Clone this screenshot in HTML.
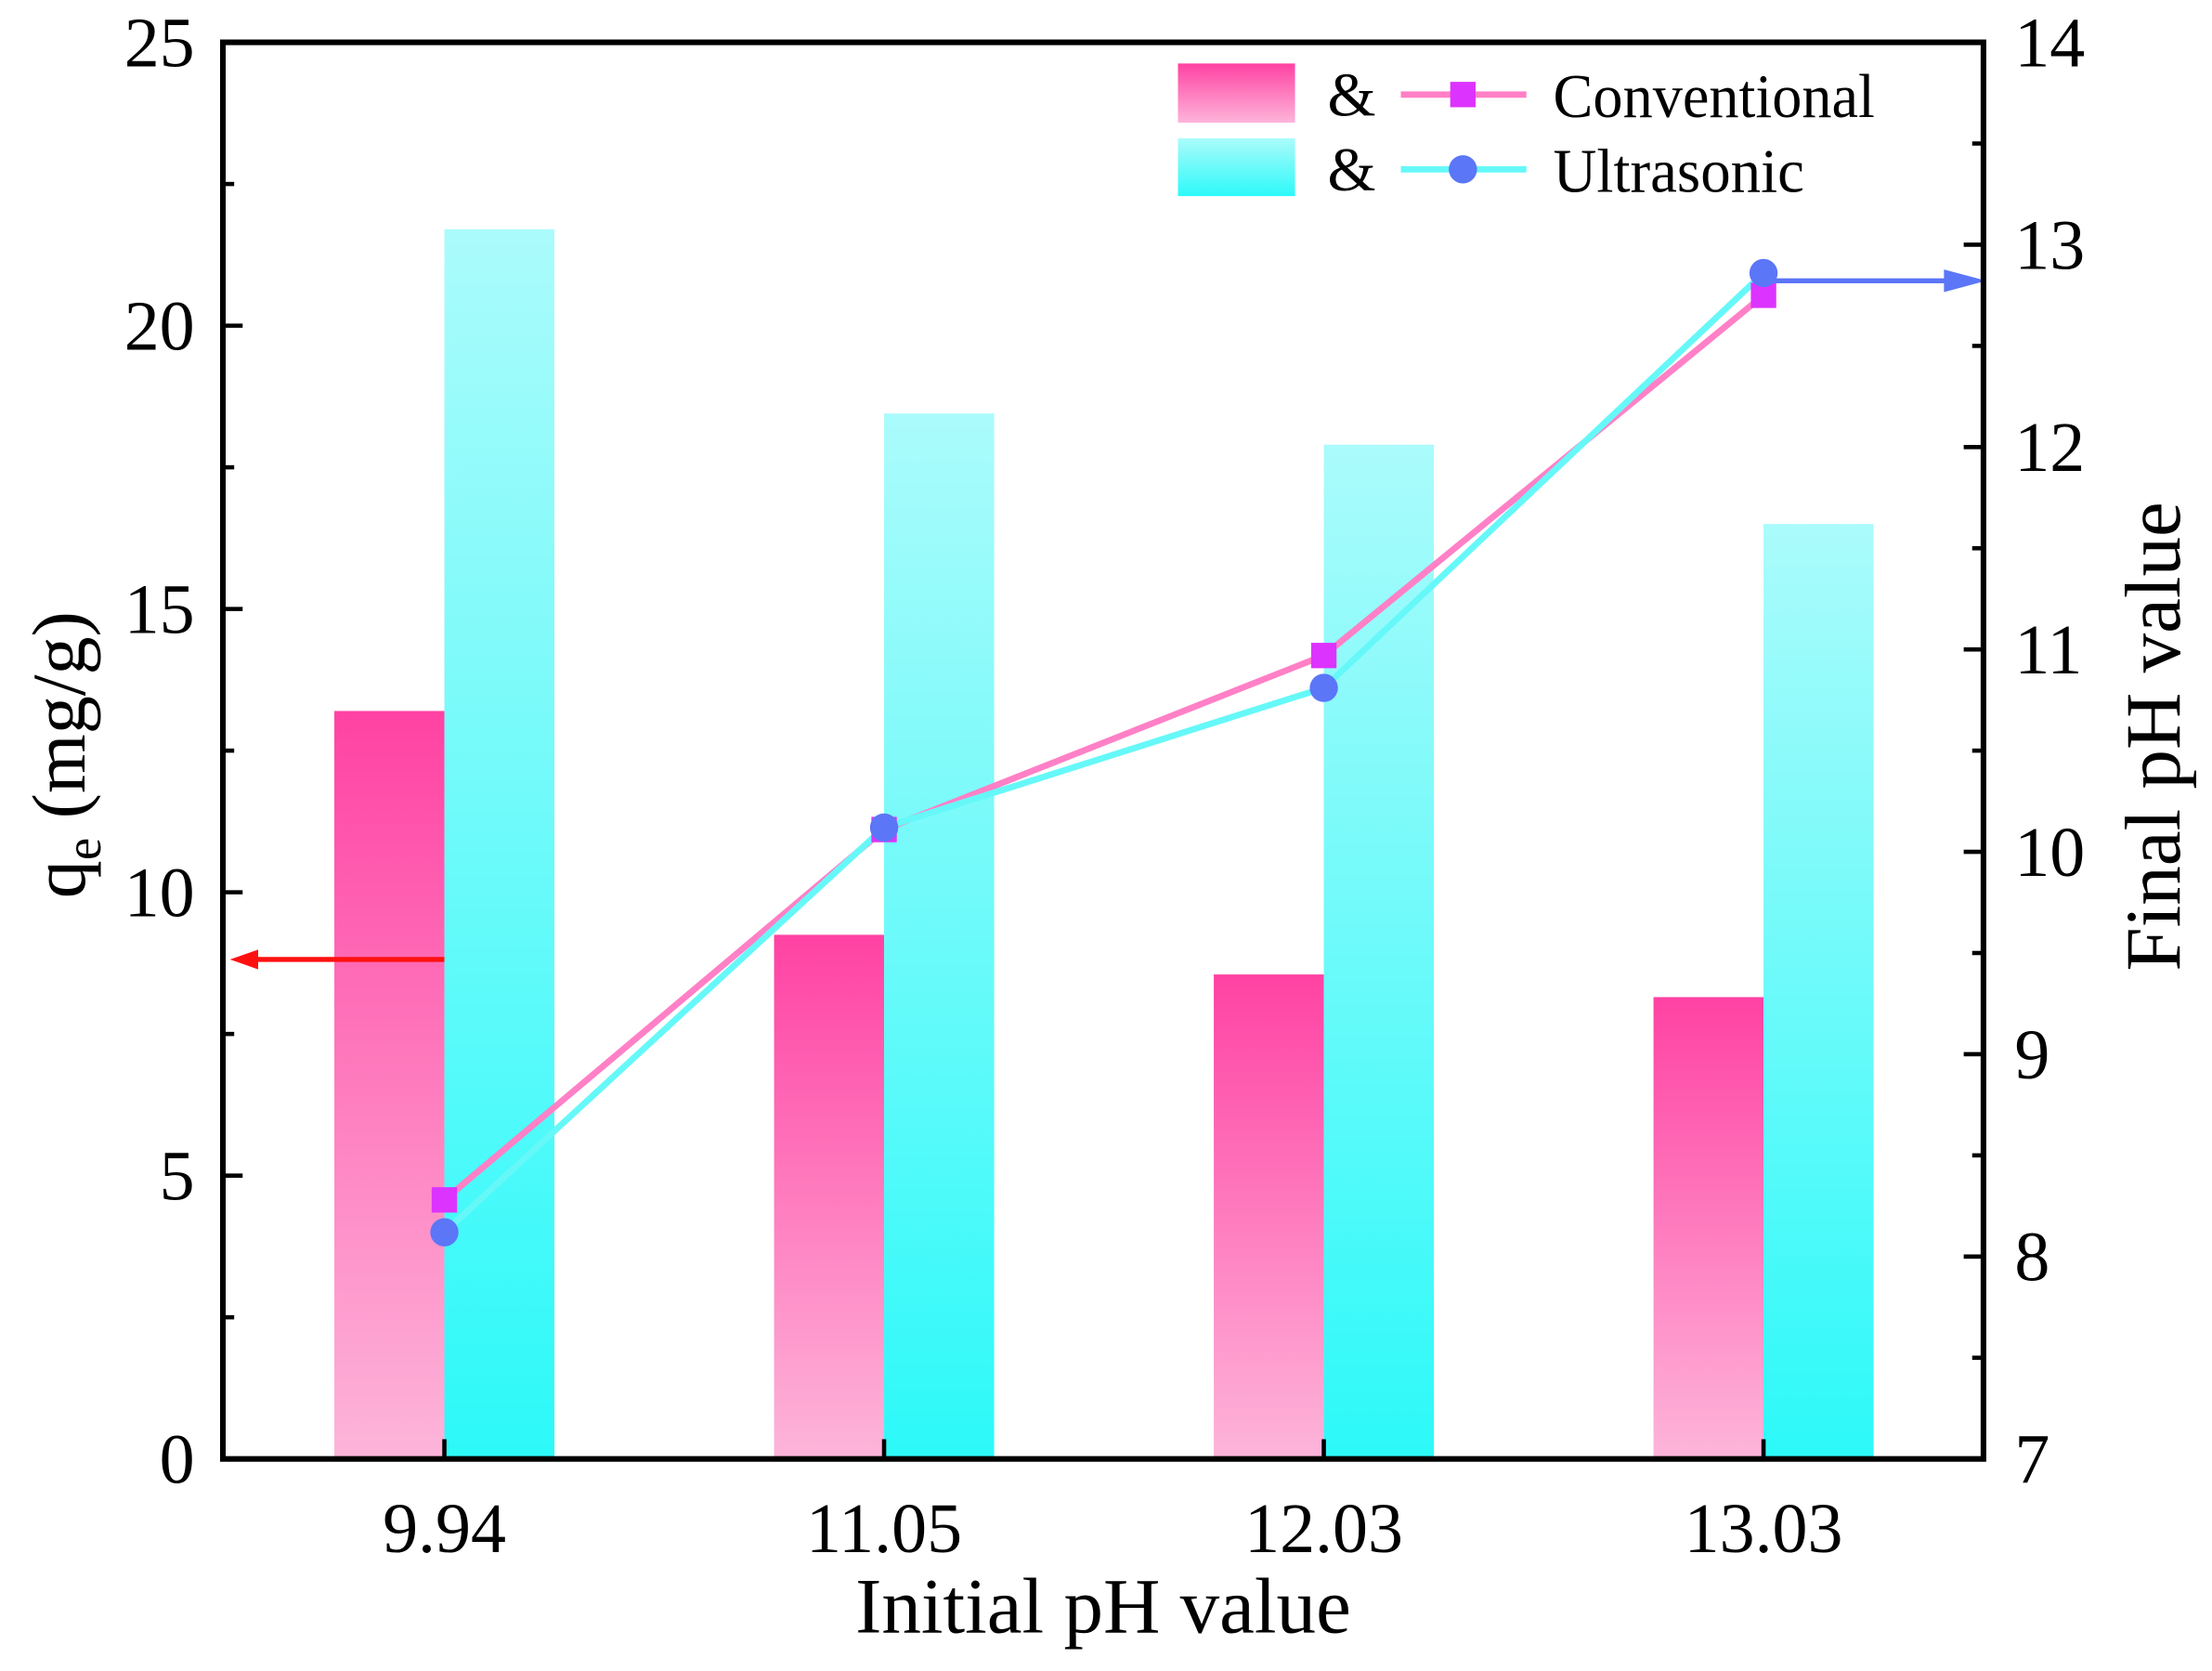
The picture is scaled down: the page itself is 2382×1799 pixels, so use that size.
<!DOCTYPE html>
<html><head><meta charset="utf-8"><style>html,body{margin:0;padding:0;background:#fff}svg{display:block}text{font-family:"Liberation Serif",serif;fill:#000}</style></head>
<body>
<svg id="chart" width="2382" height="1799" viewBox="0 0 1568 1184.3" preserveAspectRatio="none" xmlns="http://www.w3.org/2000/svg">
<defs>
<linearGradient id="gPink" x1="0" y1="0" x2="0" y2="1"><stop offset="0" stop-color="#ff42a3"/><stop offset="1" stop-color="#fdb5da"/></linearGradient>
<linearGradient id="gCyan" x1="0" y1="0" x2="0" y2="1"><stop offset="0" stop-color="#abfbfb"/><stop offset="1" stop-color="#2df9f9"/></linearGradient>
</defs>
<g id="bars"></g>
<g id="lines"></g>
<g id="axes"></g>
<g id="legend">
<rect x="835" y="45" width="83" height="42" fill="url(#gPink)"/>
<rect x="835" y="98" width="83" height="41" fill="url(#gCyan)"/>
<text x="941" y="82" font-size="44">&amp;</text>
<text x="941" y="135" font-size="44">&amp;</text>
<line x1="993" y1="67" x2="1082" y2="67" stroke="#ff80c6" stroke-width="4.5"/>
<rect x="1028" y="58" width="18" height="18" fill="#dd33ff"/>
<line x1="993" y1="120" x2="1082" y2="120" stroke="#66f8f8" stroke-width="4.5"/>
<circle cx="1037" cy="120" r="10" fill="#5b76f7"/>
<text x="1101" y="83" font-size="44" textLength="228" lengthAdjust="spacingAndGlyphs">Conventional</text>
<text x="1101" y="136" font-size="44" textLength="178" lengthAdjust="spacingAndGlyphs">Ultrasonic</text>
</g>
</svg>
<script>
const categories = ["9.94","11.05","12.03","13.03"];
const qeConventional = [13.2, 9.25, 8.55, 8.15];
const qeUltrasonic = [21.7, 18.45, 17.9, 16.5];
const phConventional = [8.28, 10.11, 10.97, 12.75];
const phUltrasonic = [8.12, 10.12, 10.81, 12.86];
const leftTicks = [0,5,10,15,20,25];
const rightTicks = [7,8,9,10,11,12,13,14];

const NS = "http://www.w3.org/2000/svg";
const L = 158, R = 1406, T = 30, B = 1034;
const yL = v => B - (v/25)*(B-T);
const yR = v => B - ((v-7)/7)*(B-T);
const xC = i => 315 + i*311.7;
const BW = 78;
function mk(tag, attrs, parent){const e=document.createElementNS(NS,tag);for(const k in attrs)e.setAttribute(k,attrs[k]);parent.appendChild(e);return e;}
const gb = document.getElementById('bars'), gl = document.getElementById('lines'), ga = document.getElementById('axes');

categories.forEach((c,i)=>{
  let r = mk('rect',{x:xC(i)-BW,y:yL(qeConventional[i]),width:BW,height:B-yL(qeConventional[i]),fill:'url(#gPink)'},gb);
  
  
  r = mk('rect',{x:xC(i),y:yL(qeUltrasonic[i]),width:BW,height:B-yL(qeUltrasonic[i]),fill:'url(#gCyan)'},gb);
  
  
});

let pc = mk('polyline',{points:phConventional.map((v,i)=>xC(i)+','+yR(v)).join(' '),fill:'none',stroke:'#ff80c6','stroke-width':4.5},gl);


let pu = mk('polyline',{points:phUltrasonic.map((v,i)=>xC(i)+','+yR(v)).join(' '),fill:'none',stroke:'#66f8f8','stroke-width':4.5},gl);


phConventional.forEach((v,i)=>{
  const m = mk('rect',{x:xC(i)-9,y:yR(v)-9,width:18,height:18,fill:'#dd33ff'},gl);
  
  
});
phUltrasonic.forEach((v,i)=>{
  const m = mk('circle',{cx:xC(i),cy:yR(v),r:10,fill:'#5b76f7'},gl);
  
  
});

let a1 = mk('line',{x1:315,y1:680,x2:178,y2:680,stroke:'#ff1010','stroke-width':3.5},ga);


mk('path',{d:'M163,680 L183,673 L183,687 Z',fill:'#ff1010'},ga);
let a2 = mk('line',{x1:1250,y1:199,x2:1390,y2:199,stroke:'#5b76f7','stroke-width':3.5},ga);


mk('path',{d:'M1408,199 L1378,191 L1378,207 Z',fill:'#5b76f7'},ga);

const fr = mk('rect',{x:L,y:T,width:R-L,height:B-T,fill:'none',stroke:'#000','stroke-width':4},ga);



for(let v=0; v<=25; v+=2.5){
  const major = v%5===0;
  mk('line',{x1:L,y1:yL(v),x2:L+(major?14:8),y2:yL(v),stroke:'#000','stroke-width':3},ga);
}
leftTicks.forEach(v=>{
  const t = mk('text',{x:L-20,y:yL(v)+17,'font-size':50,'text-anchor':'end'},ga);
  t.textContent = v;
  
  
});
for(let v=7; v<=14; v+=0.5){
  const major = Number.isInteger(v);
  mk('line',{x1:R,y1:yR(v),x2:R-(major?14:8),y2:yR(v),stroke:'#000','stroke-width':3},ga);
}
rightTicks.forEach(v=>{
  const t = mk('text',{x:R+22,y:yR(v)+17,'font-size':50},ga);
  t.textContent = v;
  
  
});
categories.forEach((c,i)=>{
  mk('line',{x1:xC(i),y1:B,x2:xC(i),y2:B-14,stroke:'#000','stroke-width':3},ga);
  const t = mk('text',{x:xC(i),y:B+66,'font-size':50,'text-anchor':'middle'},ga);
  t.textContent = c;
  
  
});
let xt = mk('text',{x:782,y:1157,'font-size':56,'text-anchor':'middle'},ga);
xt.textContent = 'Initial pH value';


let yt = mk('text',{transform:'translate(60,535) rotate(-90)','font-size':54,'text-anchor':'middle'},ga);
yt.innerHTML = 'q<tspan font-size="36" dy="11">e</tspan><tspan dy="-11"> (mg/g)</tspan>';


let rt = mk('text',{transform:'translate(1545,522) rotate(-90)','font-size':56,'text-anchor':'middle'},ga);
rt.textContent = 'Final pH value';


</script>
</body></html>
